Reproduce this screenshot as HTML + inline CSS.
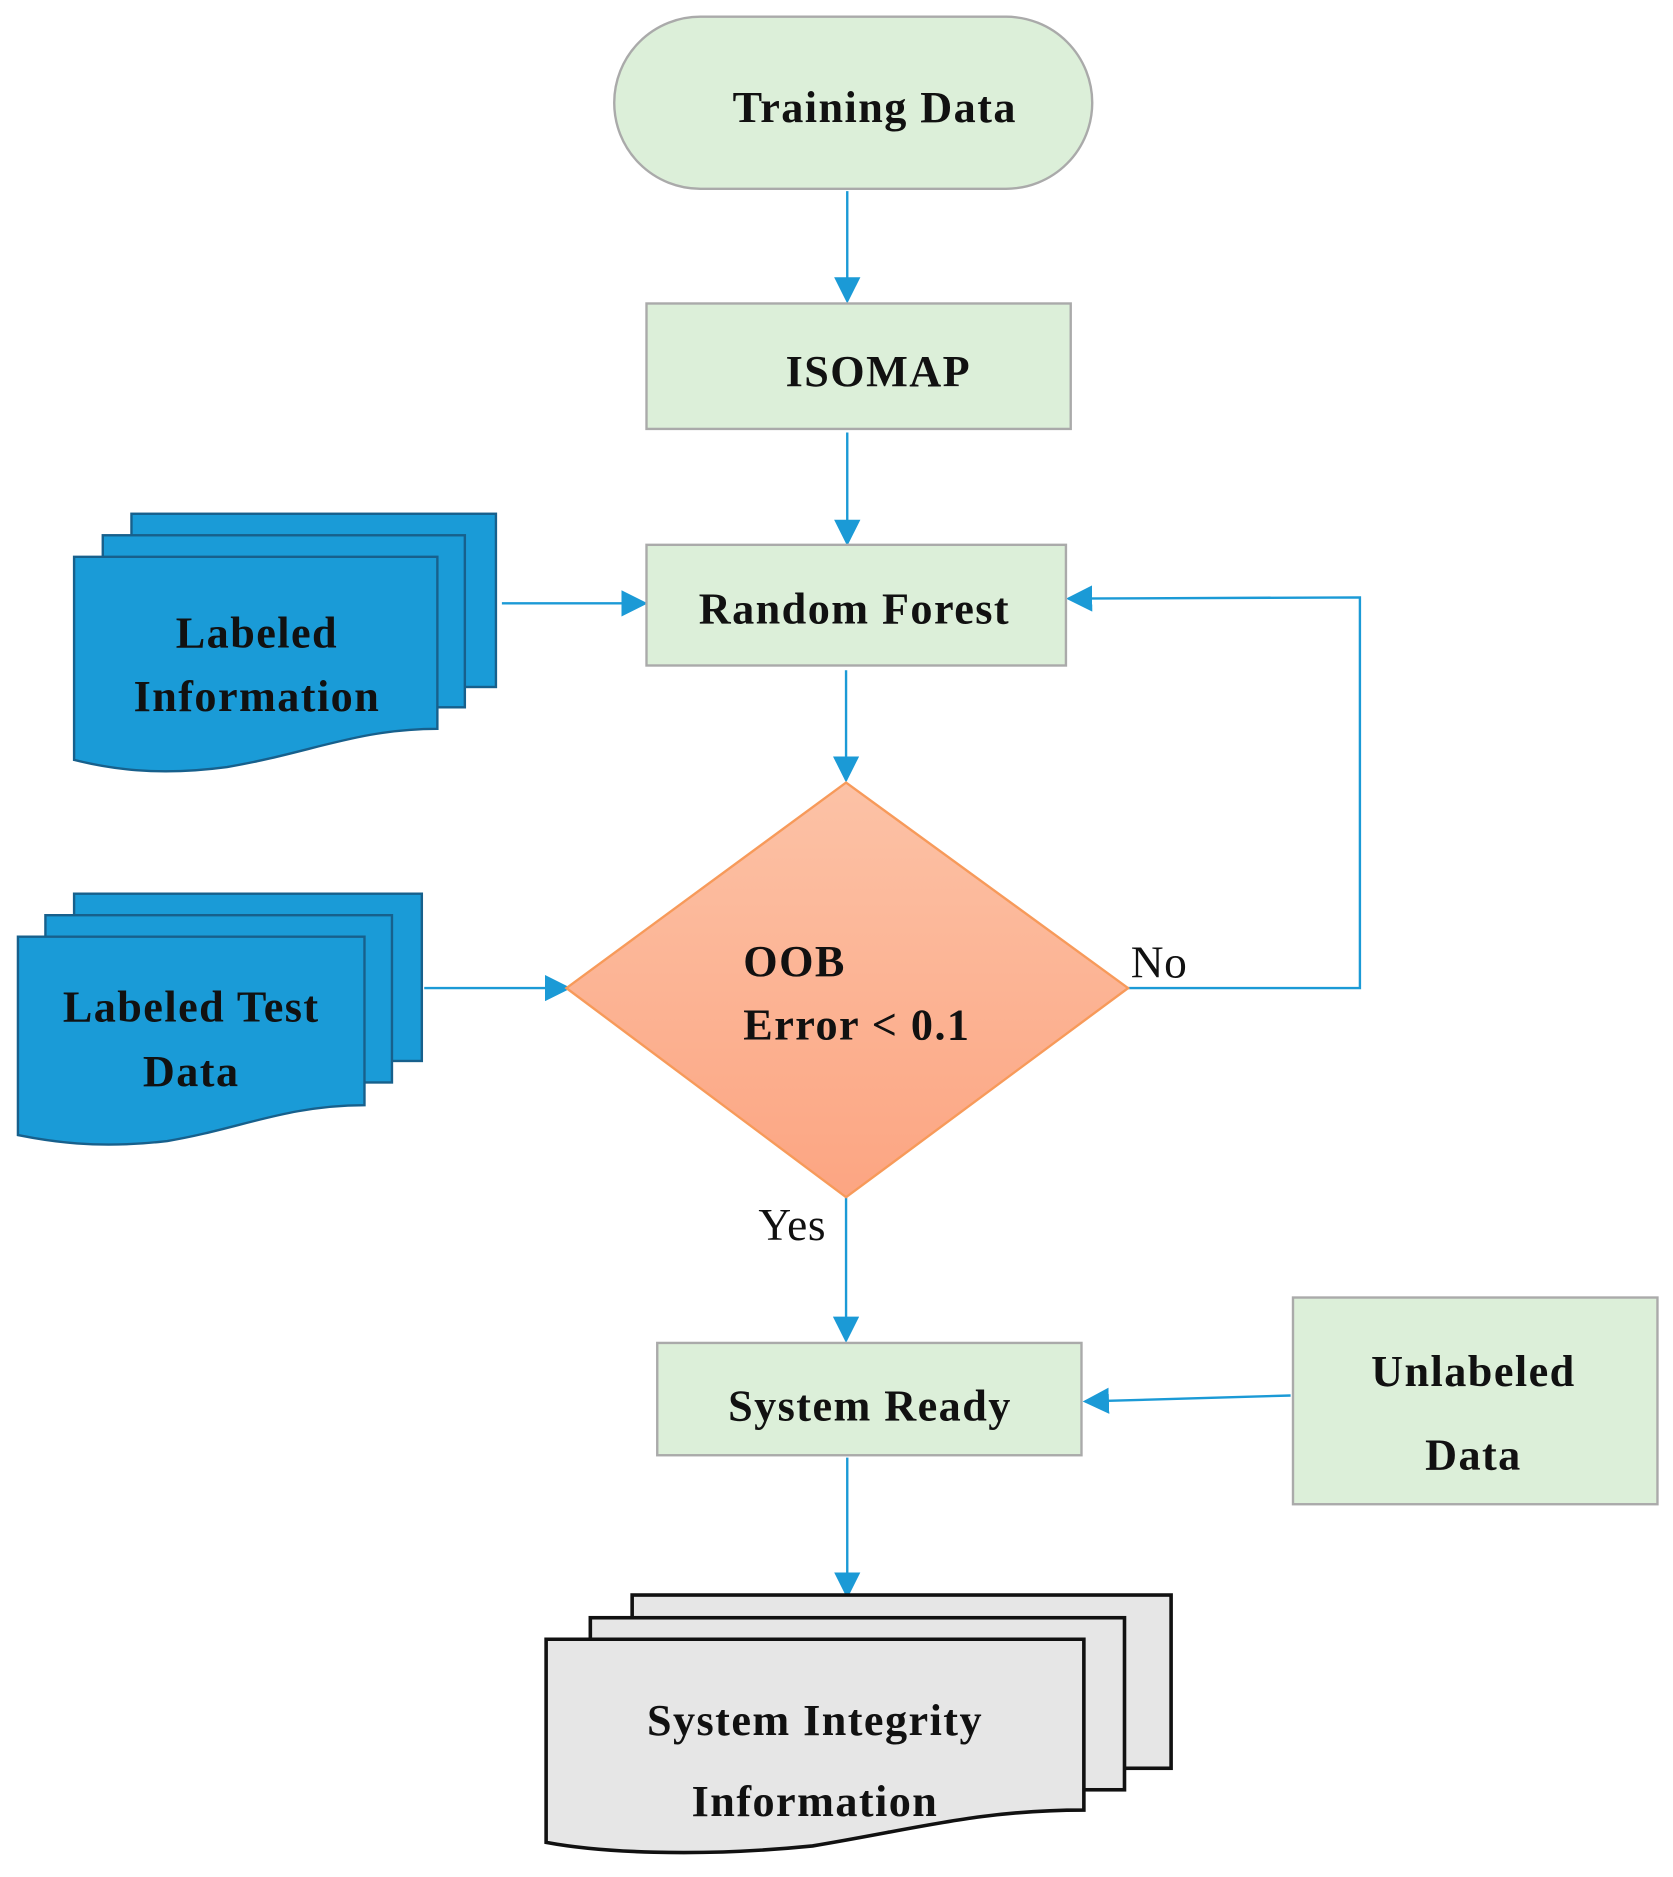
<!DOCTYPE html>
<html><head><meta charset="utf-8"><style>html,body{margin:0;padding:0;background:#fff}svg{display:block}</style></head>
<body>
<svg width="1673" height="1877" viewBox="0 0 1400 1571" preserveAspectRatio="none" xmlns="http://www.w3.org/2000/svg">
<defs>
<marker id="b" markerWidth="22" markerHeight="22" refX="20" refY="11" orient="auto" markerUnits="userSpaceOnUse" viewBox="0 0 22 22">
<path d="M0,0 L22,11 L0,22 z" fill="#1b9ad6"/></marker>
<linearGradient id="g" x1="0" y1="0" x2="0" y2="1"><stop offset="0" stop-color="#fcc2a6"/><stop offset="1" stop-color="#fca582"/></linearGradient>
</defs>
<g font-family="'Liberation Serif',serif" font-weight="bold" font-size="37" letter-spacing="1.2" fill="#111" text-anchor="middle">
<g stroke="#1b9ad6" stroke-width="2" fill="none">
<line x1="709" y1="160" x2="709" y2="252" marker-end="url(#b)"/>
<line x1="709" y1="362" x2="709" y2="455" marker-end="url(#b)"/>
<line x1="708" y1="561" x2="708" y2="653" marker-end="url(#b)"/>
<line x1="708" y1="1002" x2="708" y2="1122" marker-end="url(#b)"/>
<line x1="709" y1="1220" x2="709" y2="1336" marker-end="url(#b)"/>
<line x1="420" y1="505" x2="540" y2="505" marker-end="url(#b)"/>
<line x1="355" y1="827" x2="476" y2="827" marker-end="url(#b)"/>
<polyline points="944,827 1138,827 1138,500 894,501" marker-end="url(#b)"/>
<line x1="1080" y1="1168" x2="908" y2="1173" marker-end="url(#b)"/>
</g>
<rect x="514" y="14" width="400" height="144" rx="72" fill="#dcefd9" stroke="#aaa" stroke-width="2"/>
<text x="732" y="102">Training Data</text>
<rect x="541" y="254" width="355" height="105" fill="#dcefd9" stroke="#aaa" stroke-width="2"/>
<text x="735" y="323">ISOMAP</text>
<rect x="541" y="456" width="351" height="101" fill="#dcefd9" stroke="#aaa" stroke-width="2"/>
<text x="715" y="522">Random Forest</text>
<polygon points="708,655 944,827 708,1002 474,827" fill="url(#g)" stroke="#f79a5a" stroke-width="2"/>
<text x="622" y="817" text-anchor="start">OOB</text>
<text x="622" y="870" text-anchor="start">Error &lt; 0.1</text>
<rect x="550" y="1124" width="355" height="94" fill="#dcefd9" stroke="#aaa" stroke-width="2"/>
<text x="728" y="1189">System Ready</text>
<rect x="1082" y="1086" width="305" height="173" fill="#dcefd9" stroke="#aaa" stroke-width="2"/>
<text x="1233" y="1160">Unlabeled</text>
<text x="1233" y="1230">Data</text>
<g font-weight="normal" font-size="38" letter-spacing="0.5">
<text x="663" y="1038">Yes</text>
<text x="970" y="818">No</text>
</g>
<g fill="#1a9bd7" stroke="#17608c" stroke-width="2">
<rect x="110" y="430" width="305" height="145"/>
<rect x="86" y="448" width="303" height="144"/>
<path d="M62,466 H366 V610 C300,610 260,630 190,642 C130,650 90,643 62,636 Z"/>
<rect x="62" y="748" width="291" height="140"/>
<rect x="38" y="766" width="290" height="140"/>
<path d="M15,784 H305 V925 C240,925 200,945 140,955 C80,962 40,955 15,950 Z"/>
</g>
<text x="215" y="542">Labeled</text>
<text x="215" y="595">Information</text>
<text x="160" y="855">Labeled Test</text>
<text x="160" y="909">Data</text>
<g fill="#e6e6e6" stroke="#111" stroke-width="3">
<rect x="529" y="1335" width="451" height="145"/>
<rect x="494" y="1354" width="447" height="144"/>
<path d="M457,1372 H907 V1515 C820,1515 770,1530 680,1545 C580,1555 500,1550 457,1542 Z"/>
</g>
<text x="682" y="1452">System Integrity</text>
<text x="682" y="1520">Information</text>
</g>
</svg>
</body></html>
